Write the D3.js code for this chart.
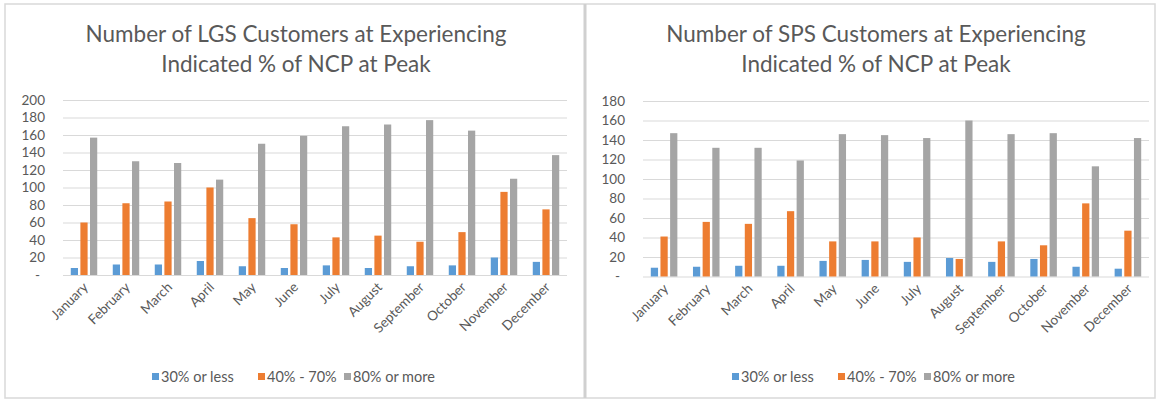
<!DOCTYPE html>
<html>
<head>
<meta charset="utf-8">
<script src="https://cdn.jsdelivr.net/npm/d3@7"></script>
<style>
  body { margin: 0; background: #fff; }
  text { font-family: Lato, "Open Sans", sans-serif; fill: #595959; }
</style>
</head>
<body>
<div id="chart"></div>
<script>
var months = ['January', 'February', 'March', 'April', 'May', 'June', 'July',
  'August', 'September', 'October', 'November', 'December'];
var seriesNames = ['30% or less', '40% - 70%', '80% or more'];
var colors = ['#5b9bd5', '#ed7d31', '#a5a5a5'];

// LGS customers
var lgsLow = [8, 12, 12, 16, 10, 8, 11, 8, 10, 11, 20, 15];
var lgsMid = [60, 82, 84, 100, 65, 58, 43, 45, 38, 49, 95, 75];
var lgsHigh = [157, 130, 128, 109, 150, 159, 170, 172, 177, 165, 110, 137];
var lgsTicks = [0, 20, 40, 60, 80, 100, 120, 140, 160, 180, 200];

// SPS customers
var spsLow = [9, 10, 11, 11, 16, 17, 15, 19, 15, 18, 10, 8];
var spsMid = [41, 56, 54, 67, 36, 36, 40, 18, 36, 32, 75, 47];
var spsHigh = [147, 132, 132, 119, 146, 145, 142, 160, 146, 147, 113, 142];
var spsTicks = [0, 20, 40, 60, 80, 100, 120, 140, 160, 180];

var svg = d3.select('#chart').append('svg')
  .attr('width', 1161)
  .attr('height', 400);

// panel frames
svg.append('rect')
  .attr('x', 5).attr('y', 4)
  .attr('width', 1150).attr('height', 394)
  .attr('fill', 'none')
  .attr('stroke', '#d9d9d9')
  .attr('stroke-width', 1.5);
svg.append('line')
  .attr('x1', 585).attr('x2', 585)
  .attr('y1', 4).attr('y2', 398)
  .attr('stroke', '#d0d0d0')
  .attr('stroke-width', 3);

function drawChart(opts) {
  var g = svg.append('g');
  var series = [opts.low, opts.mid, opts.high];

  var x0 = d3.scaleBand()
    .domain(months)
    .range([opts.left, opts.right])
    .paddingInner(0.37)
    .paddingOuter(0.185);
  var x1 = d3.scaleBand()
    .domain(d3.range(3))
    .range([0, x0.bandwidth()])
    .paddingInner(0.25);
  var y = d3.scaleLinear()
    .domain([0, d3.max(opts.ticks)])
    .range([opts.bottom, opts.top]);

  // title
  opts.title.forEach(function(line, i) {
    g.append('text')
      .attr('x', opts.cx)
      .attr('y', 42 + i * 30)
      .attr('text-anchor', 'middle')
      .style('font-size', '22.5px')
      .text(line);
  });

  // gridlines
  g.selectAll('.grid')
    .data(opts.ticks)
    .enter().append('line')
    .attr('x1', opts.left).attr('x2', opts.right)
    .attr('y1', function(d) { return y(d) + 0.5; })
    .attr('y2', function(d) { return y(d) + 0.5; })
    .attr('stroke', '#d9d9d9')
    .attr('stroke-width', 1);

  // y labels
  g.selectAll('.ylab')
    .data(opts.ticks)
    .enter().append('text')
    .attr('x', function(d) { return d === 0 ? opts.left - 23 : opts.left - 18; })
    .attr('y', function(d) { return y(d) + 4.5; })
    .attr('text-anchor', 'end')
    .style('font-size', '13.5px')
    .text(function(d) { return d === 0 ? '-' : d; });

  // bars
  series.forEach(function(vals, s) {
    g.selectAll('.bar' + s)
      .data(vals)
      .enter().append('rect')
      .attr('x', function(d, i) { return x0(months[i]) + x1(s); })
      .attr('y', function(d) { return y(d); })
      .attr('width', x1.bandwidth())
      .attr('height', function(d) { return y(0) - y(d); })
      .attr('fill', colors[s]);
  });

  // x labels
  months.forEach(function(m) {
    var cx = x0(m) + x0.bandwidth() / 2 + 5;
    g.append('text')
      .attr('transform', 'translate(' + cx + ',' + (opts.bottom + 13) + ') rotate(-45)')
      .attr('text-anchor', 'end')
      .style('font-size', '13.5px')
      .text(m);
  });

  // legend
  var legend = g.append('g');
  var lx = opts.cx - 144;
  var offsets = [0, 106, 192];
  seriesNames.forEach(function(name, s) {
    legend.append('rect')
      .attr('x', lx + offsets[s])
      .attr('y', opts.legendY - 9)
      .attr('width', 7).attr('height', 7)
      .attr('fill', colors[s]);
    legend.append('text')
      .attr('x', lx + offsets[s] + 9)
      .attr('y', opts.legendY)
      .style('font-size', '14.5px')
      .text(name);
  });
}

drawChart({
  title: ['Number of LGS Customers at Experiencing', 'Indicated % of NCP at Peak'],
  low: lgsLow, mid: lgsMid, high: lgsHigh, ticks: lgsTicks,
  left: 63, right: 567, top: 100, bottom: 275, cx: 296, legendY: 382
});

drawChart({
  title: ['Number of SPS Customers at Experiencing', 'Indicated % of NCP at Peak'],
  low: spsLow, mid: spsMid, high: spsHigh, ticks: spsTicks,
  left: 643, right: 1149, top: 101, bottom: 276.5, cx: 876, legendY: 382
});
</script>
</body>
</html>
